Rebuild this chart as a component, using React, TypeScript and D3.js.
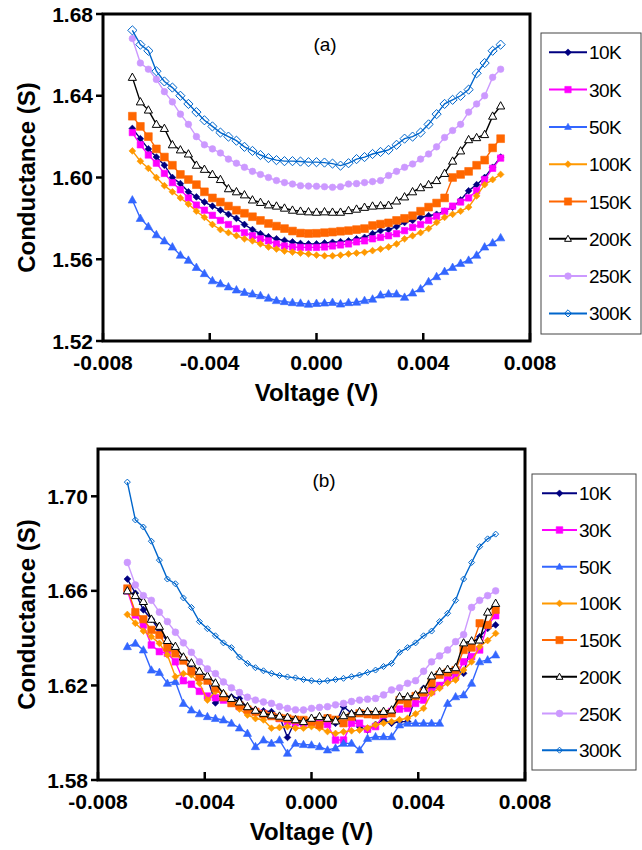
import React from "react";
import * as d3 from "d3";

// Bias voltage grid shared by every sweep (V)
const voltage = [
  -0.0069, -0.0066, -0.0063, -0.006, -0.0057, -0.0054, -0.0051, -0.0048, -0.0045, -0.0042,
  -0.0039, -0.0036, -0.0033, -0.003, -0.0027, -0.0024, -0.0021, -0.0018, -0.0015, -0.0012,
  -0.0009, -0.0006, -0.0003, 0, 0.0003, 0.0006, 0.0009, 0.0012, 0.0015, 0.0018,
  0.0021, 0.0024, 0.0027, 0.003, 0.0033, 0.0036, 0.0039, 0.0042, 0.0045, 0.0048,
  0.0051, 0.0054, 0.0057, 0.006, 0.0063, 0.0066, 0.0069,
];

const temperatures = ["10K", "30K", "50K", "100K", "150K", "200K", "250K", "300K"];

// Panel (a) conductance (S)
const a10K = [
  1.624, 1.619, 1.614, 1.61, 1.606, 1.6, 1.597, 1.593, 1.5905, 1.588,
  1.586, 1.584, 1.582, 1.58, 1.577, 1.5745, 1.5725, 1.571, 1.57, 1.5692,
  1.5685, 1.5677, 1.5675, 1.5675, 1.568, 1.5683, 1.5686, 1.569, 1.57, 1.5707,
  1.5725, 1.574, 1.5745, 1.576, 1.578, 1.579, 1.5805, 1.5813, 1.582, 1.5835,
  1.5855, 1.589, 1.5935, 1.5965, 1.6, 1.605, 1.61,
];
const a30K = [
  1.622, 1.616, 1.611, 1.607, 1.602, 1.5975, 1.594, 1.59, 1.5865, 1.584,
  1.5815, 1.579, 1.577, 1.575, 1.573, 1.5715, 1.57, 1.569, 1.5675, 1.5665,
  1.566, 1.5658, 1.5658, 1.5658, 1.566, 1.5665, 1.567, 1.5675, 1.5685, 1.569,
  1.57, 1.5707, 1.5715, 1.5725, 1.574, 1.5756, 1.577, 1.579, 1.581, 1.5835,
  1.586, 1.588, 1.59, 1.5935, 1.599, 1.6045, 1.6095,
];
const a50K = [
  1.589, 1.58, 1.576, 1.572, 1.569, 1.566, 1.562, 1.5595, 1.556, 1.553,
  1.5495, 1.548, 1.5465, 1.545, 1.5438, 1.543, 1.5422, 1.541, 1.5398, 1.5393,
  1.5388, 1.5385, 1.538, 1.5384, 1.5386, 1.5389, 1.5381, 1.5388, 1.539, 1.5398,
  1.5405, 1.5425, 1.543, 1.543, 1.5414, 1.5435, 1.5455, 1.549, 1.5515, 1.554,
  1.556, 1.558, 1.5595, 1.562, 1.566, 1.568, 1.5705,
];
const a100K = [
  1.613, 1.608, 1.6045, 1.6, 1.596, 1.593, 1.59, 1.587, 1.5835, 1.5805,
  1.577, 1.5745, 1.573, 1.5715, 1.57, 1.569, 1.5675, 1.566, 1.565, 1.564,
  1.5635, 1.563, 1.5626, 1.562, 1.5617, 1.5617, 1.562, 1.5626, 1.563, 1.5634,
  1.5642, 1.565, 1.566, 1.5675, 1.57, 1.5715, 1.573, 1.575, 1.578, 1.5805,
  1.582, 1.5835, 1.5855, 1.591, 1.5965, 1.599, 1.6015,
];
const a150K = [
  1.63, 1.625, 1.62, 1.614, 1.61, 1.606, 1.6015, 1.599, 1.5965, 1.593,
  1.59, 1.588, 1.586, 1.584, 1.5825, 1.5808, 1.579, 1.5775, 1.5762, 1.575,
  1.5738, 1.5728, 1.5726, 1.5727, 1.573, 1.5733, 1.5737, 1.574, 1.5745, 1.575,
  1.5765, 1.5772, 1.5778, 1.579, 1.58, 1.5813, 1.5835, 1.5855, 1.5875, 1.59,
  1.6, 1.6015, 1.603, 1.606, 1.6085, 1.6145, 1.619,
];
const a200K = [
  1.649, 1.637, 1.633, 1.626, 1.624, 1.616, 1.6135, 1.6115, 1.606, 1.604,
  1.6015, 1.599, 1.5945, 1.593, 1.5915, 1.589, 1.5878, 1.5866, 1.586, 1.585,
  1.584, 1.5835, 1.5832, 1.583, 1.5832, 1.583, 1.583, 1.5838, 1.5845, 1.5854,
  1.586, 1.5862, 1.5864, 1.5885, 1.5905, 1.593, 1.595, 1.5965, 1.5985, 1.602,
  1.608, 1.613, 1.6185, 1.6195, 1.621, 1.63, 1.635,
];
const a250K = [
  1.668, 1.656, 1.653, 1.648, 1.642, 1.637, 1.631, 1.626, 1.62, 1.616,
  1.614, 1.612, 1.609, 1.607, 1.605, 1.603, 1.6015, 1.6, 1.5985, 1.5975,
  1.5968, 1.596, 1.5958, 1.5957, 1.5955, 1.5952, 1.5955, 1.5968, 1.597, 1.5975,
  1.598, 1.5985, 1.601, 1.603, 1.605, 1.6066, 1.609, 1.6115, 1.615, 1.6196,
  1.623, 1.626, 1.632, 1.636, 1.64, 1.649, 1.653,
];
const a300K = [
  1.672, 1.665, 1.662, 1.652, 1.647, 1.644, 1.64, 1.636, 1.632, 1.628,
  1.625, 1.622, 1.62, 1.618, 1.615, 1.613, 1.611, 1.6095, 1.6085, 1.608,
  1.608, 1.6078, 1.6075, 1.6075, 1.6073, 1.6068, 1.6058, 1.607, 1.609, 1.61,
  1.6115, 1.6125, 1.6135, 1.616, 1.619, 1.62, 1.622, 1.626, 1.631, 1.636,
  1.638, 1.64, 1.643, 1.651, 1.656, 1.662, 1.665,
];

// Panel (b) conductance (S)
const b10K = [
  1.665, 1.659, 1.652, 1.648, 1.6434, 1.6385, 1.634, 1.631, 1.627, 1.6245,
  1.623, 1.6126, 1.6148, 1.6152, 1.6145, 1.6105, 1.6096, 1.6092, 1.6089, 1.607,
  1.598, 1.6054, 1.605, 1.6045, 1.6061, 1.6058, 1.604, 1.611, 1.6082, 1.6025,
  1.6011, 1.6035, 1.6054, 1.604, 1.6047, 1.6047, 1.6152, 1.6188, 1.6188, 1.62,
  1.6223, 1.6265, 1.6251, 1.6378, 1.6406, 1.6441, 1.6456,
];
const b30K = [
  1.66, 1.6498, 1.6456, 1.6371, 1.6343, 1.6336, 1.63, 1.622, 1.6205, 1.6175,
  1.6155, 1.6148, 1.6138, 1.6125, 1.611, 1.6096, 1.609, 1.6082, 1.607, 1.606,
  1.6047, 1.6042, 1.604, 1.604, 1.604, 1.6035, 1.5969, 1.5969, 1.604, 1.604,
  1.6015, 1.6026, 1.6075, 1.609, 1.61, 1.6103, 1.6124, 1.6138, 1.6174, 1.62,
  1.6225, 1.6237, 1.63, 1.6322, 1.635, 1.6456, 1.6495,
];
const b50K = [
  1.6364, 1.6378, 1.635, 1.6265, 1.6255, 1.6209, 1.6216, 1.6124, 1.6096, 1.608,
  1.6068, 1.606, 1.6054, 1.604, 1.602, 1.5997, 1.5941, 1.5969, 1.5955, 1.5969,
  1.5913, 1.5955, 1.595, 1.5948, 1.5941, 1.5927, 1.5935, 1.5955, 1.5955, 1.5927,
  1.5976, 1.5983, 1.5983, 1.5983, 1.6033, 1.604, 1.604, 1.604, 1.604, 1.604,
  1.6124, 1.6152, 1.616, 1.6209, 1.63, 1.6308, 1.6329,
];
const b100K = [
  1.65, 1.6463, 1.643, 1.6406, 1.6378, 1.6329, 1.6237, 1.625, 1.6245, 1.6209,
  1.6138, 1.6174, 1.6167, 1.6124, 1.61, 1.6075, 1.606, 1.6054, 1.6019, 1.6022,
  1.6026, 1.6019, 1.6019, 1.6026, 1.6019, 1.6005, 1.5997, 1.6004, 1.6008, 1.6011,
  1.602, 1.6033, 1.604, 1.6047, 1.6055, 1.6061, 1.608, 1.6103, 1.6167, 1.6188,
  1.621, 1.6223, 1.6265, 1.63, 1.6364, 1.639, 1.642,
];
const b150K = [
  1.661, 1.651, 1.648, 1.6435, 1.6413, 1.636, 1.6335, 1.6305, 1.626, 1.6235,
  1.622, 1.619, 1.615, 1.6125, 1.6115, 1.6098, 1.6088, 1.6078, 1.607, 1.6063,
  1.606, 1.6055, 1.6054, 1.6047, 1.6033, 1.6061, 1.6055, 1.604, 1.6068, 1.6082,
  1.6078, 1.6075, 1.608, 1.6082, 1.6138, 1.6124, 1.6155, 1.617, 1.621, 1.6245,
  1.6255, 1.6265, 1.635, 1.636, 1.6463, 1.6456, 1.652,
];
const b200K = [
  1.66, 1.658, 1.6555, 1.648, 1.645, 1.639, 1.6365, 1.632, 1.6295, 1.626,
  1.624, 1.621, 1.6165, 1.6145, 1.613, 1.611, 1.6095, 1.6082, 1.6075, 1.607,
  1.6065, 1.6055, 1.6047, 1.6061, 1.6068, 1.6061, 1.605, 1.6072, 1.608, 1.6089,
  1.6089, 1.6089, 1.609, 1.6096, 1.6152, 1.6152, 1.616, 1.6181, 1.624, 1.6258,
  1.6268, 1.6275, 1.638, 1.6388, 1.6392, 1.651, 1.6547,
];
const b250K = [
  1.672, 1.6625, 1.658, 1.656, 1.651, 1.647, 1.6425, 1.638, 1.634, 1.63,
  1.627, 1.625, 1.6215, 1.619, 1.617, 1.615, 1.6138, 1.613, 1.6124, 1.611,
  1.6103, 1.6097, 1.6096, 1.6103, 1.6107, 1.611, 1.6118, 1.6124, 1.6132, 1.6138,
  1.6142, 1.6145, 1.616, 1.6181, 1.619, 1.6209, 1.622, 1.626, 1.63, 1.6325,
  1.635, 1.6385, 1.6415, 1.653, 1.656, 1.658, 1.66,
];
const b300K = [
  1.706, 1.69, 1.687, 1.681, 1.673, 1.665, 1.663, 1.657, 1.653, 1.647,
  1.644, 1.641, 1.638, 1.636, 1.632, 1.6293, 1.6275, 1.6262, 1.6251, 1.6242,
  1.6236, 1.6232, 1.6225, 1.622, 1.6216, 1.622, 1.6225, 1.623, 1.6237, 1.6244,
  1.6255, 1.6265, 1.628, 1.6293, 1.634, 1.636, 1.638, 1.641, 1.643, 1.647,
  1.6505, 1.656, 1.665, 1.672, 1.6787, 1.682, 1.684,
];

const seriesA = [a10K, a30K, a50K, a100K, a150K, a200K, a250K, a300K];
const seriesB = [b10K, b30K, b50K, b100K, b150K, b200K, b250K, b300K];

const xTicks = [-0.008, -0.004, 0, 0.004, 0.008];
const yTicksA = [1.52, 1.56, 1.6, 1.64, 1.68];
const yTicksB = [1.58, 1.62, 1.66, 1.7];

// Per-series styling
const colors = ["#000080", "#ff00ff", "#3366ff", "#ff9900", "#ff6600", "#000000", "#cc99ff", "#0066cc"];
type Shape = "diamond" | "square" | "triangle" | "circle";
const shapes: Shape[] = ["diamond", "square", "triangle", "diamond", "square", "triangle", "circle", "diamond"];
const fills = ["solid", "solid", "solid", "solid", "solid", "white", "solid", "none"];
const radiiA = [3.4, 3.2, 4.4, 3.4, 3.9, 4.3, 3.3, 4.6];
const radiiB = [3.4, 3.3, 4.3, 3.4, 3.7, 4.3, 3.4, 3.0];

const FONT = "'Liberation Sans', Arial, Helvetica, sans-serif";

function markerPath(shape: Shape, r: number): string {
  const p = d3.path();
  if (shape === "diamond") {
    p.moveTo(0, -r); p.lineTo(r, 0); p.lineTo(0, r); p.lineTo(-r, 0); p.closePath();
  } else if (shape === "square") {
    p.rect(-r, -r, 2 * r, 2 * r);
  } else if (shape === "triangle") {
    p.moveTo(0, -r); p.lineTo(r * 0.95, r * 0.7); p.lineTo(-r * 0.95, r * 0.7); p.closePath();
  } else {
    p.arc(0, 0, r, 0, 2 * Math.PI);
  }
  return p.toString();
}

function Marker({ i, r, cx, cy }: { i: number; r: number; cx: number; cy: number }) {
  const c = colors[i];
  const f = fills[i] === "solid" ? c : fills[i];
  return (
    <path
      d={markerPath(shapes[i], r)}
      transform={`translate(${cx},${cy})`}
      fill={f}
      stroke={c}
      strokeWidth={fills[i] === "solid" ? 0.6 : 1}
    />
  );
}

type Frame = { left: number; right: number; top: number; bottom: number };
type LegendBox = { x0: number; x1: number; y0: number; y1: number; first: number; step: number; lx0: number; lx1: number };

// Tick labels use a plain hyphen for negatives
const fmtX = (v: number) => d3.format(".3f")(v).replace("\u2212", "-");
const fmtY = d3.format(".2f");

function Panel({
  frame, yDomain, yTicks, series, radii, tag, tagX, tagY, legend,
}: {
  frame: Frame; yDomain: [number, number]; yTicks: number[]; series: number[][]; radii: number[];
  tag: string; tagX: number; tagY: number; legend: LegendBox;
}) {
  const x = d3.scaleLinear().domain([-0.008, 0.008]).range([frame.left, frame.right]);
  const y = d3.scaleLinear().domain(yDomain).range([frame.bottom, frame.top]);
  const line = d3.line<number>().x((_, k) => x(voltage[k])).y((d) => y(d));

  return (
    <g>
      {series.map((vals, i) => (
        <g key={temperatures[i]}>
          <path d={line(vals) ?? ""} fill="none" stroke={colors[i]} strokeWidth={1.4} />
          {vals.map((v, k) => (
            <Marker key={k} i={i} r={radii[i]} cx={x(voltage[k])} cy={y(v)} />
          ))}
        </g>
      ))}

      <rect
        x={frame.left} y={frame.top}
        width={frame.right - frame.left} height={frame.bottom - frame.top}
        fill="none" stroke="#000" strokeWidth={3}
      />

      {yTicks.map((t) => (
        <g key={t}>
          <line x1={frame.left - 7} x2={frame.left} y1={y(t)} y2={y(t)} stroke="#000" strokeWidth={2.5} />
          <text x={frame.left - 10} y={y(t) + 7.5} textAnchor="end" fontFamily={FONT} fontWeight="bold" fontSize={21}>
            {fmtY(t)}
          </text>
        </g>
      ))}

      {xTicks.map((t) => (
        <g key={t}>
          <line x1={x(t)} x2={x(t)} y1={frame.bottom} y2={frame.bottom - 8} stroke="#000" strokeWidth={2.5} />
          <text x={x(t)} y={frame.bottom + 29} textAnchor="middle" fontFamily={FONT} fontWeight="bold" fontSize={21}>
            {fmtX(t)}
          </text>
        </g>
      ))}

      <text
        x={(frame.left + frame.right) / 2} y={frame.bottom + 60}
        textAnchor="middle" fontFamily={FONT} fontWeight="bold" fontSize={24}
      >
        Voltage (V)
      </text>
      <text
        transform={`translate(35,${(frame.top + frame.bottom) / 2}) rotate(-90)`}
        textAnchor="middle" fontFamily={FONT} fontWeight="bold" fontSize={24}
      >
        Conductance (S)
      </text>

      <text x={tagX} y={tagY} textAnchor="middle" fontFamily={FONT} fontSize={19}>
        {tag}
      </text>

      <rect
        x={legend.x0} y={legend.y0} width={legend.x1 - legend.x0} height={legend.y1 - legend.y0}
        fill="#fff" stroke="#444" strokeWidth={1}
      />
      {temperatures.map((name, i) => {
        const ly = legend.first + legend.step * i;
        return (
          <g key={name}>
            <line x1={legend.lx0} x2={legend.lx1} y1={ly} y2={ly} stroke={colors[i]} strokeWidth={2} />
            <Marker i={i} r={Math.min(radii[i], 3.6)} cx={(legend.lx0 + legend.lx1) / 2} cy={ly} />
            <text x={legend.lx1 + 2} y={ly + 7} fontFamily={FONT} fontSize={19} letterSpacing={-0.6}>
              {name}
            </text>
          </g>
        );
      })}
    </g>
  );
}

export default function App() {
  return (
    <svg
      width={642} height={850}
      style={{ position: "absolute", left: 0, top: 0, background: "#fff" }}
    >
      <Panel
        frame={{ left: 103, right: 530, top: 14, bottom: 341 }}
        yDomain={[1.52, 1.68]} yTicks={yTicksA} series={seriesA} radii={radiiA}
        tag="(a)" tagX={325} tagY={51}
        legend={{ x0: 541, x1: 641, y0: 33, y1: 334, first: 52.3, step: 37.3, lx0: 549, lx1: 587 }}
      />
      <Panel
        frame={{ left: 98, right: 525, top: 449, bottom: 780 }}
        yDomain={[1.58, 1.72]} yTicks={yTicksB} series={seriesB} radii={radiiB}
        tag="(b)" tagX={324} tagY={487}
        legend={{ x0: 532, x1: 636, y0: 474, y1: 770, first: 493.3, step: 36.7, lx0: 542, lx1: 577 }}
      />
    </svg>
  );
}
